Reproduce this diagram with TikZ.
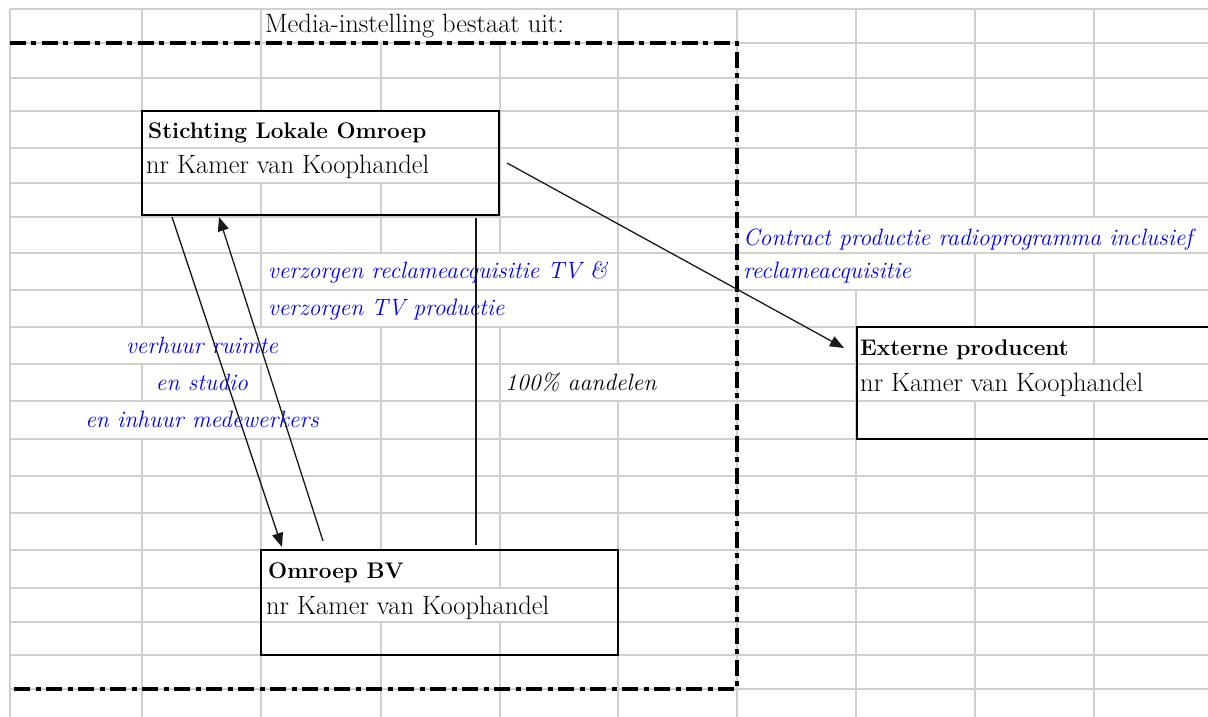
\documentclass[tikz,border=0pt]{standalone}
\usetikzlibrary{arrows.meta,calc}
\definecolor{gridgray}{RGB}{208,208,208}
\definecolor{lblue}{RGB}{0,0,255}
\begin{document}
\begin{tikzpicture}[x=1pt,y=-1pt,
  gridline/.style={draw=gridgray,line width=1.4pt},
  frame/.style={line width=3.2pt,dash pattern=on 16pt off 5pt on 5pt off 6pt},
  box/.style={draw=black,line width=1.6pt,rectangle,inner sep=0pt,outer sep=0pt,anchor=north west},
  conn/.style={draw=black!90,line width=1.3pt},
  tip/.style={-{Triangle[length=14pt,width=11pt]}},
  plain/.style={font=\fontsize{26.5}{31}\selectfont,inner sep=0pt,anchor=base west},
  title/.style={font=\fontsize{22.6}{27}\selectfont\bfseries,inner sep=0pt,anchor=base west},
  note/.style={font=\fontsize{23.6}{28}\selectfont\itshape,text=lblue,inner sep=0pt,anchor=base west},
]
\useasboundingbox (0,0) rectangle (1208,717);
\clip (0,0) rectangle (1208,717);
\fill[white] (0,0) rectangle (1208,717);
% spreadsheet grid
\foreach \x in {10,142,261,381,500,618,737,856,975,1094}
  \draw[gridline] (\x,9) -- (\x,717);
\foreach \y in {9,43,78,111,148,183,217,253,290,327,364,401,439,476,513,550,588,622,655,689}
  \draw[gridline] (10,\y) -- (1208,\y);
% cell borders hidden by overflowing text
\foreach \x/\a/\b in {381/9/43,500/9/43,
  261/111/148,381/111/148,261/148/183,381/148/183,
  856/217/253,975/217/253,1094/217/253,
  381/253/290,500/253/290,856/253/290,
  381/290/327,500/290/327,
  142/327/364,261/327/364,975/327/364,
  618/364/401,975/364/401,1094/364/401,
  142/401/439,261/401/439,
  381/550/588,381/588/622,500/588/622}
  \fill[white] (\x-3,\a+1.3) rectangle (\x+3,\b-1.3);
% boxes
\node[box,minimum width=357pt,minimum height=104pt] (slo) at (142,111) {};
\node[box,minimum width=357pt,minimum height=105pt] (bv) at (261,550) {};
\node[box,minimum width=360pt,minimum height=112pt] (ext) at (857,327) {};
% dash-dot frame
\draw[frame] (10,43) -- (737,43) -- (737,689) -- (10,689);
% texts
\node[plain] (t0) at (265,33) {Media-instelling bestaat uit:};
\node[title] (t1) at (148,139) {Stichting Lokale Omroep};
\node[plain] (t2) at (146,173) {nr Kamer van Koophandel};
\node[note] (t3) at (743,245) {Contract productie radioprogramma inclusief};
\node[note] (t4) at (743,278) {reclameacquisitie};
\node[note] (t5) at (268,278) {verzorgen reclameacquisitie TV \&};
\node[note] (t6) at (268,315) {verzorgen TV productie};
\node[note,anchor=base] (t7) at (202,353) {verhuur ruimte};
\node[note,anchor=base] (t8) at (202,390) {en studio};
\node[note,anchor=base] (t9) at (202,427) {en inhuur medewerkers};
\node[note,text=black] (t10) at (505,390) {100\% aandelen};
\node[title] (t11) at (860,355) {Externe producent};
\node[plain] (t12) at (860,391) {nr Kamer van Koophandel};
\node[title] (t13) at (268,578) {Omroep BV};
\node[plain] (t14) at (266,614) {nr Kamer van Koophandel};
% connectors
\coordinate (a1s) at ($(slo.south west)+(30,2)$);
\coordinate (a1e) at ($(bv.north west)+(21,-3)$);
\coordinate (a2s) at ($(bv.north west)+(62,-9)$);
\coordinate (a2e) at ($(slo.south west)+(77,2)$);
\coordinate (a3s) at ($(slo.south west)+(334,3)$);
\coordinate (a3e) at ($(bv.north west)+(215,-5)$);
\coordinate (a4s) at ($(slo.north east)+(8,52)$);
\coordinate (a4e) at ($(ext.north west)+(-13,21)$);
\draw[conn,tip] (a1s) -- (a1e);
\draw[conn,tip] (a2s) -- (a2e);
\draw[conn] (a3s) -- (a3e);
\draw[conn,tip] (a4s) -- (a4e);
\end{tikzpicture}
\end{document}
